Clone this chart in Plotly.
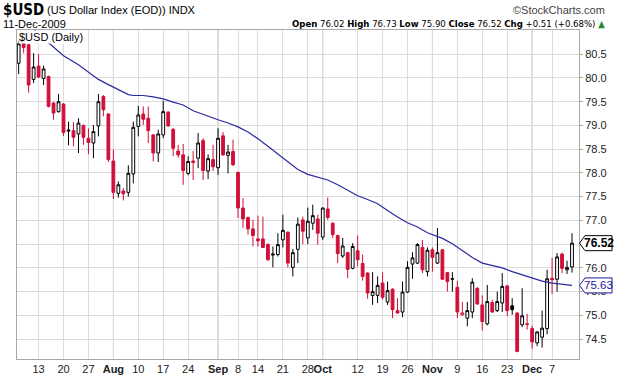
import plotly.graph_objects as go

# ---------------- data ----------------
dates = [
    "2009-07-07","2009-07-08","2009-07-09","2009-07-10","2009-07-13","2009-07-14","2009-07-15","2009-07-16","2009-07-17",
    "2009-07-20","2009-07-21","2009-07-22","2009-07-23","2009-07-24","2009-07-27","2009-07-28","2009-07-29","2009-07-30","2009-07-31",
    "2009-08-03","2009-08-04","2009-08-05","2009-08-06","2009-08-07","2009-08-10","2009-08-11","2009-08-12","2009-08-13","2009-08-14",
    "2009-08-17","2009-08-18","2009-08-19","2009-08-20","2009-08-21","2009-08-24","2009-08-25","2009-08-26","2009-08-27","2009-08-28","2009-08-31",
    "2009-09-01","2009-09-02","2009-09-03","2009-09-04","2009-09-08","2009-09-09","2009-09-10","2009-09-11","2009-09-14","2009-09-15",
    "2009-09-16","2009-09-17","2009-09-18","2009-09-21","2009-09-22","2009-09-23","2009-09-24","2009-09-25","2009-09-28","2009-09-29","2009-09-30",
    "2009-10-01","2009-10-02","2009-10-05","2009-10-06","2009-10-07","2009-10-08","2009-10-09","2009-10-12","2009-10-13","2009-10-14",
    "2009-10-15","2009-10-16","2009-10-19","2009-10-20","2009-10-21","2009-10-22","2009-10-23","2009-10-26","2009-10-27","2009-10-28","2009-10-29","2009-10-30",
    "2009-11-02","2009-11-03","2009-11-04","2009-11-05","2009-11-06","2009-11-09","2009-11-10","2009-11-11","2009-11-12","2009-11-13",
    "2009-11-16","2009-11-17","2009-11-18","2009-11-19","2009-11-20","2009-11-23","2009-11-24","2009-11-25","2009-11-27","2009-11-30",
    "2009-12-01","2009-12-02","2009-12-03","2009-12-04","2009-12-07","2009-12-08","2009-12-09","2009-12-10","2009-12-11",
]
opens = [80.31,80.75,80.70,79.97,80.25,79.99,80.03,79.47,79.29,79.45,78.88,78.89,78.82,79.00,78.73,78.63,78.99,79.61,79.24,
         78.25,77.57,77.62,77.59,77.98,78.98,79.24,79.15,78.80,78.42,78.80,79.28,78.92,78.46,78.38,77.99,78.25,78.31,78.68,78.04,78.28,
         78.11,78.78,78.37,78.45,78.01,77.26,77.06,76.82,76.61,76.61,76.49,76.27,76.28,76.59,76.75,76.01,76.39,77.01,76.63,76.94,77.03,
         76.65,77.24,76.94,76.68,76.25,76.32,75.99,76.36,76.09,75.89,75.42,75.42,75.68,75.28,75.55,75.10,75.07,75.49,76.08,76.10,76.43,75.92,
         76.38,76.10,76.38,75.90,75.76,75.59,75.01,74.94,75.07,75.57,75.22,74.82,75.27,75.10,75.26,75.62,75.20,75.05,74.80,74.82,
         74.72,74.42,74.54,74.72,75.78,75.76,76.29,75.96,76.02]
highs = [80.78,80.77,80.72,80.52,80.50,80.26,80.05,79.50,79.66,79.47,79.08,79.07,79.15,79.02,78.94,79.01,79.66,79.64,79.26,
         78.49,77.82,77.68,78.16,79.08,79.41,79.40,79.40,78.82,78.91,79.52,79.30,78.94,78.59,78.61,78.35,78.46,78.84,78.73,78.39,78.59,
         78.94,78.86,78.59,78.70,78.03,77.47,77.08,77.01,77.10,77.08,76.52,76.45,76.73,77.12,76.77,76.40,77.06,77.08,77.27,77.33,77.12,
         77.27,77.48,76.96,76.70,76.63,76.34,76.52,76.68,76.28,75.91,75.91,75.82,75.91,75.71,75.57,75.36,75.71,76.14,76.33,76.52,76.59,76.43,
         76.43,76.84,76.40,75.91,75.91,75.73,75.28,75.28,75.78,75.59,75.42,75.64,75.33,75.50,75.89,75.64,75.36,75.06,75.57,75.03,
         74.78,74.66,75.10,75.96,76.21,76.31,76.32,76.15,76.73]
lows = [80.08,80.52,79.69,79.89,80.00,79.85,79.38,79.12,79.27,78.78,78.58,78.56,78.42,78.59,78.39,78.31,78.77,79.19,78.23,
        77.45,77.48,77.42,77.50,77.78,78.77,79.01,78.63,78.24,78.23,78.73,78.97,78.35,78.32,77.75,77.95,77.85,78.10,77.85,77.87,78.04,
        77.96,78.36,77.99,78.15,77.05,76.84,76.70,76.45,76.45,76.42,76.15,76.01,76.24,76.43,76.01,75.82,76.10,76.50,76.50,76.80,76.49,
        76.59,77.01,76.63,76.10,76.21,75.78,75.97,76.03,75.73,75.35,75.22,75.26,75.33,75.22,74.94,75.03,74.96,75.47,75.77,76.08,75.89,75.82,
        75.92,76.08,75.75,75.50,75.50,74.94,75.00,74.77,74.94,75.22,74.68,74.79,75.05,75.07,75.07,74.98,75.01,74.22,74.75,74.70,
        74.30,74.35,74.32,74.60,75.45,75.50,75.89,75.87,75.90]
closes = [80.72,80.64,79.85,80.23,80.02,80.19,79.40,79.26,79.50,78.85,78.90,78.75,79.05,78.75,78.64,78.87,79.50,79.33,78.28,
          77.59,77.75,77.56,77.99,78.96,79.22,79.13,78.89,78.42,78.82,79.29,78.99,78.52,78.38,78.05,78.24,78.22,78.63,78.05,78.30,78.13,
          78.73,78.38,78.44,78.17,77.26,77.03,76.82,76.68,76.57,76.43,76.17,76.29,76.49,76.79,76.10,76.32,76.92,76.77,76.98,77.10,76.73,
          77.26,77.06,76.70,76.30,76.46,75.97,76.45,76.17,75.82,75.47,75.50,75.63,75.38,75.52,75.12,75.05,75.49,76.01,76.21,76.49,75.96,76.37,
          76.22,76.32,75.76,75.71,75.77,75.07,75.05,75.10,75.70,75.24,74.87,75.29,75.07,75.29,75.61,75.10,75.12,74.24,74.99,74.81,
          74.44,74.65,74.73,75.77,75.75,76.23,75.99,76.01,76.52]

# 50-day moving average at these trading-day positions
ma_dates = ["2009-07-07","2009-07-10","2009-07-15","2009-07-20","2009-07-23","2009-07-27","2009-07-29","2009-07-31",
            "2009-08-04","2009-08-06","2009-08-07","2009-08-11","2009-08-13","2009-08-17","2009-08-19","2009-08-21",
            "2009-08-25","2009-08-28","2009-09-01","2009-09-03","2009-09-08","2009-09-10","2009-09-14","2009-09-16",
            "2009-09-18","2009-09-22","2009-09-24","2009-09-28","2009-09-30","2009-10-02","2009-10-06","2009-10-08",
            "2009-10-12","2009-10-14","2009-10-16","2009-10-20","2009-10-22","2009-10-26","2009-10-28","2009-10-30",
            "2009-11-04","2009-11-06","2009-11-10","2009-11-12","2009-11-16","2009-11-18","2009-11-20","2009-11-24",
            "2009-11-27","2009-12-01","2009-12-03","2009-12-07","2009-12-09","2009-12-11"]
ma_vals = [81.26,81.03,80.74,80.47,80.28,80.12,79.97,79.86,
           79.76,79.65,79.63,79.63,79.60,79.56,79.49,79.43,
           79.31,79.19,79.12,79.05,78.97,78.86,78.72,78.56,
           78.40,78.22,78.07,77.97,77.91,77.85,77.75,77.64,
           77.52,77.44,77.35,77.21,77.07,76.95,76.86,76.74,
           76.62,76.51,76.36,76.22,76.10,76.05,76.00,75.92,
           75.85,75.78,75.72,75.68,75.66,75.63]

tick_dates = ["2009-07-13","2009-07-20","2009-07-27","2009-08-03","2009-08-10","2009-08-17","2009-08-24",
              "2009-09-01","2009-09-08","2009-09-14","2009-09-21","2009-09-28","2009-10-01","2009-10-12",
              "2009-10-19","2009-10-26","2009-11-02","2009-11-09","2009-11-16","2009-11-23","2009-12-01","2009-12-07"]
tick_text = ["13","20","27","<b>Aug</b>","10","17","24","<b>Sep</b>","8","14","21","28","<b>Oct</b>","12",
             "19","26","<b>Nov</b>","9","16","23","<b>Dec</b>","7"]
month_dates = ["2009-08-03","2009-09-01","2009-10-01","2009-11-02","2009-12-01"]
ytick_vals = [74.5,75.0,75.5,76.0,76.5,77.0,77.5,78.0,78.5,79.0,79.5,80.0,80.5]
ytick_hidden = [76.5]   # covered by the last-close marker in the original

symbol = "$USD"
name = "(US Dollar Index (EOD))"
exchange = "INDX"
last_date = "11-Dec-2009"
chg = 0.51
chg_pct = 0.68

# ---------------- figure ----------------
W, H = 620, 376
ML, MR, MT, MB = 17, 41, 30, 17
PW, PH = W - ML - MR, H - MT - MB
YR = [74.08, 81.01]
XR = [-0.33, 112.4]

def px(xp):
    return (xp - ML) / PW

def py(yp):
    return (H - MB - yp) / PH

idx = list(range(len(dates)))
RED = "#d0103a"

up_i, dn_i = [], []
for i in idx:
    prev = closes[i - 1] if i > 0 else opens[i]
    (up_i if closes[i] >= prev else dn_i).append(i)

def sub(arr, ids):
    return [arr[i] for i in ids]

fig = go.Figure()
for ids, col, dfill in ((up_i, "#000000", "#000000"), (dn_i, RED, RED)):
    fig.add_trace(go.Candlestick(
        x=ids, open=sub(opens, ids), high=sub(highs, ids), low=sub(lows, ids), close=sub(closes, ids),
        increasing=dict(line=dict(color=col, width=1), fillcolor="#ffffff"),
        decreasing=dict(line=dict(color=col, width=1), fillcolor=dfill),
        whiskerwidth=0, showlegend=False, hoverinfo="skip",
    ))

fig.add_trace(go.Scatter(
    x=[dates.index(d) for d in ma_dates], y=ma_vals, mode="lines",
    line=dict(color="#2a2aa0", width=1.2), showlegend=False, hoverinfo="skip",
))

shapes = []
for d in month_dates:
    shapes.append(dict(type="line", xref="x", yref="paper", x0=dates.index(d), x1=dates.index(d), y0=0, y1=1,
                       line=dict(color="#b4b4b4", width=1), layer="between"))

# value markers on right axis
unit = (YR[1] - YR[0]) / PH
def marker(val, col, bold):
    hh = 7.5 * unit
    x0, x1, x2 = px(579.5), px(585), px(612)
    shapes.append(dict(type="path", xref="paper", yref="y",
                       path=f"M {x0},{val} L {x1},{val+hh} L {x2},{val+hh} L {x2},{val-hh} L {x1},{val-hh} Z",
                       fillcolor="#ffffff", line=dict(color=col, width=1), layer="above"))
    txt = f"<b>{val:.2f}</b>" if bold else f"{val:.2f}"
    return dict(x=px(598.5), y=val, xref="paper", yref="y", text=txt, showarrow=False,
                font=dict(size=12 if bold else 11.5, color=col, family="Liberation Sans, Arial"),
                xanchor="center", yanchor="middle")

NARROW = "Liberation Sans Narrow, DejaVu Sans Condensed, Liberation Sans"
annots = [
    marker(closes[-1], "#000000", True),
    marker(ma_vals[-1], "#1a1a9a", False),
    dict(x=px(1), y=py(10), xref="paper", yref="paper", xanchor="left", yanchor="middle", showarrow=False,
         text=f"<b>{symbol}</b>", font=dict(size=15, color="#000", family=NARROW)),
    dict(x=px(45), y=py(10), xref="paper", yref="paper", xanchor="left", yanchor="middle", showarrow=False,
         text=f"{name} {exchange}", font=dict(size=11, color="#000", family="Liberation Sans, Arial")),
    dict(x=px(607), y=py(10), xref="paper", yref="paper", xanchor="right", yanchor="middle", showarrow=False,
         text="©StockCharts.com", font=dict(size=11, color="#444", family="Liberation Sans, Arial")),
    dict(x=px(1), y=py(24), xref="paper", yref="paper", xanchor="left", yanchor="middle", showarrow=False,
         text=last_date, font=dict(size=11, color="#000", family="Liberation Sans, Arial")),
    dict(x=px(607), y=py(24), xref="paper", yref="paper", xanchor="right", yanchor="middle", showarrow=False,
         text=(f"<b>Open</b> {opens[-1]:.2f} <b>High</b> {highs[-1]:.2f} <b>Low</b> {lows[-1]:.2f} "
               f"<b>Close</b> {closes[-1]:.2f} <b>Chg</b> +{chg:.2f} (+{chg_pct:.2f}%) <span style='color:#2a8a2a'>▲</span>"),
         font=dict(size=9.5, color="#000", family=NARROW)),
    dict(x=px(18), y=py(37), xref="paper", yref="paper", xanchor="left", yanchor="middle", showarrow=False,
         text=f"{symbol} (Daily)", bgcolor="#ffffff", borderpad=0,
         font=dict(size=11, color="#000", family="Liberation Sans, Arial")),
]

fig.update_layout(
    width=W, height=H, margin=dict(l=ML, r=MR, t=MT, b=MB, autoexpand=False),
    paper_bgcolor="#ffffff", plot_bgcolor="#ffffff",
    shapes=shapes, annotations=annots, boxgap=0.2,
    font=dict(family="Liberation Sans, Arial", size=11, color="#222"),
    xaxis=dict(range=XR, tickvals=[dates.index(d) for d in tick_dates], ticktext=tick_text, tickangle=0,
               automargin=False, showgrid=True, gridcolor="#dcdcdc", gridwidth=1, zeroline=False,
               showline=True, linecolor="#a8a8a8", mirror=True, ticks="", tickfont=dict(size=11, color="#222"),
               rangeslider=dict(visible=False), fixedrange=True),
    yaxis=dict(range=YR, side="right", tickvals=ytick_vals,
               ticktext=["" if v in ytick_hidden else f"{v:.1f}" for v in ytick_vals],
               automargin=False, showgrid=True, gridcolor="#dcdcdc", gridwidth=1, zeroline=False,
               showline=True, linecolor="#a8a8a8", mirror=True, ticks="outside", ticklen=3, tickcolor="#a8a8a8",
               tickfont=dict(size=11, color="#222"), fixedrange=True),
)

fig.write_html("out.html", config={"displayModeBar": False, "staticPlot": True},
               post_script="document.body.style.margin='0';document.body.style.overflow='hidden';")
